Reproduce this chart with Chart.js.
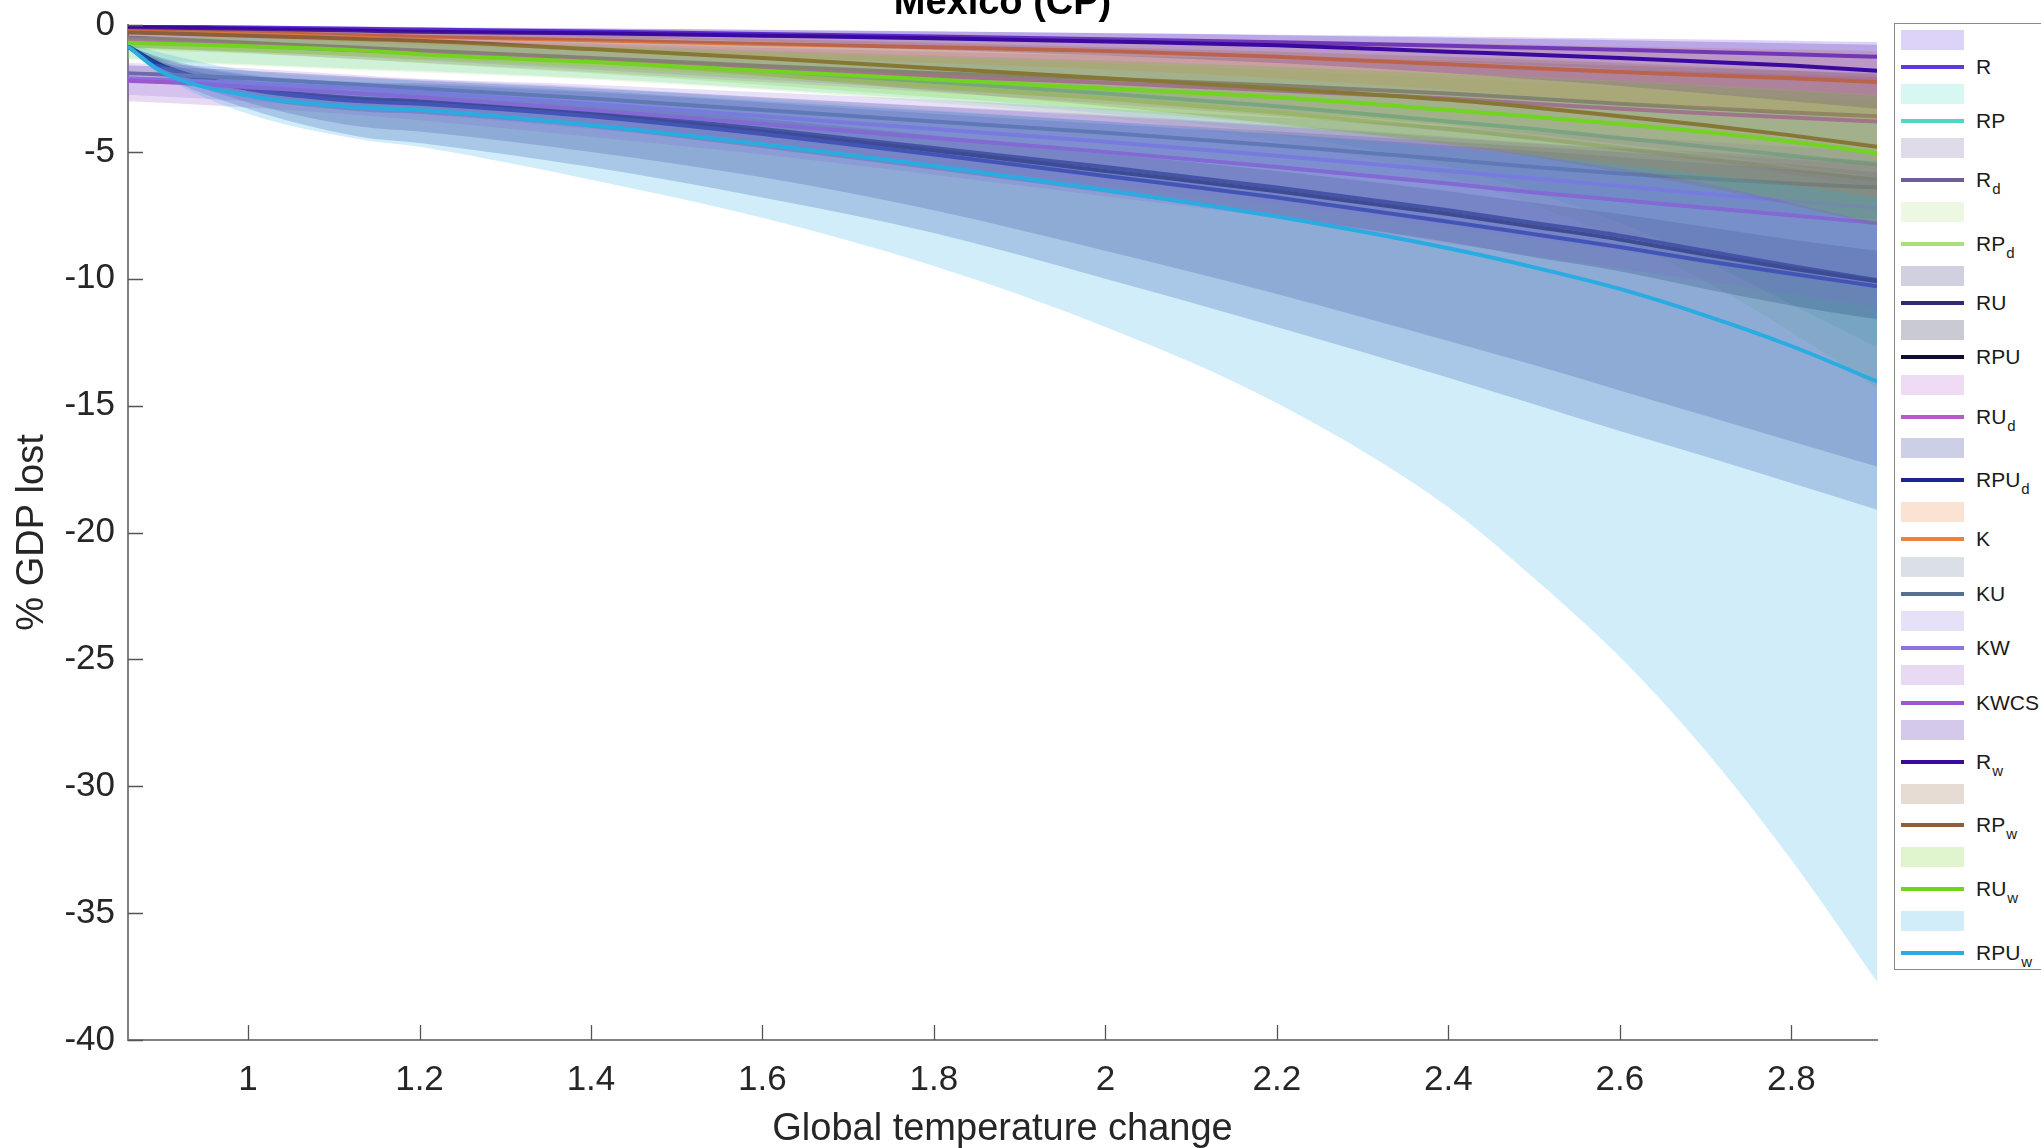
<!DOCTYPE html>
<html>
<head>
<meta charset="utf-8">
<script src="https://cdn.jsdelivr.net/npm/chart.js@4.4.0/dist/chart.umd.min.js"></script>
<style>
html,body{margin:0;padding:0;background:#fff;overflow:hidden;width:2041px;height:1148px}
#chart{position:absolute;left:0;top:0}
#legend{position:absolute;left:1894px;top:23px;width:230px;height:947px;border:1.5px solid #8a8a8a;background:#fff;box-sizing:border-box;padding-top:2px;font-family:"Liberation Sans",Arial,sans-serif;font-size:21px;color:#1a1a1a}
.row{position:relative;height:27.2px}
.row.sub{height:36.6px}
.patch{position:absolute;left:6px;top:50%;width:63px;height:20px;margin-top:-10px}
.ln{position:absolute;left:6px;top:50%;width:63px;height:4px;margin-top:-2px}
.lbl{position:absolute;left:81px;top:50%;margin-top:-12px;line-height:24px;white-space:nowrap}
.lbl sub{font-size:15px;position:relative;top:7px;vertical-align:baseline;margin-left:1px}
</style>
</head>
<body>
<canvas id="chart" width="2041" height="1148"></canvas>
<div id="legend"></div>
<script>
// ---------- data ----------
const xs = [0.86, 0.9, 1.0, 1.13, 1.2, 1.4, 1.6, 1.8, 2.0, 2.2, 2.4, 2.5, 2.6, 2.7, 2.8, 2.9];
const xTicks = [1, 1.2, 1.4, 1.6, 1.8, 2, 2.2, 2.4, 2.6, 2.8];
const xTickLabels = ['1','1.2','1.4','1.6','1.8','2','2.2','2.4','2.6','2.8'];
const yTicks = [0, -5, -10, -15, -20, -25, -30, -35, -40];
const yTickLabels = ['0','-5','-10','-15','-20','-25','-30','-35','-40'];

const seriesNames = ['R','RP','R_d','RP_d','RU','RPU','RU_d','RPU_d','K','KU','KW','KWCS','R_w','RP_w','RU_w','RPU_w'];
const lineColors = ['#6236e0','#4fd6c4','#6f5d99','#a8e07c','#2e2a78','#0d0d30','#b65ac8','#1c2590',
                    '#ef7f3d','#58708f','#8b74e0','#9c56cf','#3a0a9e','#8c5e3c','#72d321','#2aace2'];

const R_mean = [-0.05,-0.06,-0.1,-0.15,-0.18,-0.26,-0.35,-0.45,-0.56,-0.68,-0.82,-0.9,-0.98,-1.06,-1.15,-1.25];
const R_hi   = [0,-0.01,-0.03,-0.06,-0.08,-0.13,-0.19,-0.25,-0.32,-0.38,-0.45,-0.49,-0.53,-0.57,-0.62,-0.67];
const R_lo   = [-0.15,-0.17,-0.24,-0.32,-0.37,-0.5,-0.65,-0.82,-1.0,-1.2,-1.45,-1.6,-1.75,-1.92,-2.1,-2.3];

const RP_mean = [-0.75,-0.8,-0.92,-1.1,-1.2,-1.5,-1.85,-2.25,-2.7,-3.2,-3.8,-4.1,-4.45,-4.8,-5.15,-5.5];
const RP_hi   = [-0.4,-0.42,-0.48,-0.56,-0.62,-0.8,-1.0,-1.2,-1.4,-1.65,-1.95,-2.1,-2.25,-2.42,-2.6,-2.8];
const RP_lo   = [-1.3,-1.4,-1.55,-1.72,-1.8,-2.1,-2.5,-2.95,-3.5,-4.3,-5.6,-6.6,-7.8,-9.3,-11.0,-12.7];

const Rd_mean = [-0.5,-0.55,-0.7,-0.9,-1.0,-1.3,-1.62,-1.9,-2.12,-2.38,-2.7,-2.9,-3.1,-3.28,-3.45,-3.6];
const Rd_hi   = [-0.25,-0.28,-0.35,-0.45,-0.5,-0.65,-0.8,-0.95,-1.1,-1.25,-1.4,-1.5,-1.6,-1.7,-1.8,-1.9];
const Rd_lo   = [-0.8,-0.86,-1.0,-1.25,-1.38,-1.75,-2.15,-2.55,-2.95,-3.4,-3.95,-4.3,-4.7,-5.1,-5.55,-6.0];

const RPd_mean = [-0.8,-0.85,-0.98,-1.15,-1.25,-1.58,-1.95,-2.4,-2.9,-3.45,-4.1,-4.45,-4.85,-5.25,-5.7,-6.1];
const RPd_hi   = [-0.45,-0.47,-0.53,-0.62,-0.68,-0.87,-1.08,-1.3,-1.52,-1.8,-2.1,-2.27,-2.45,-2.65,-2.85,-3.05];
const RPd_lo   = [-1.35,-1.45,-1.6,-1.78,-1.86,-2.15,-2.55,-3.05,-3.65,-4.6,-6.0,-7.1,-8.4,-10.1,-12.1,-14.3];

const RU_mean = [-0.85,-1.6,-2.45,-2.9,-3.0,-3.45,-4.1,-4.85,-5.6,-6.4,-7.3,-7.8,-8.3,-8.9,-9.5,-10.05];
const RU_hi   = [-0.8,-1.3,-1.95,-2.25,-2.3,-2.6,-3.0,-3.4,-3.8,-4.2,-4.6,-4.8,-5.0,-5.25,-5.5,-5.8];
const RU_lo   = [-0.9,-1.8,-3.05,-4.0,-4.2,-5.0,-6.0,-7.3,-8.9,-10.6,-12.45,-13.4,-14.4,-15.4,-16.4,-17.4];

const RPU_mean = [-0.85,-1.62,-2.5,-2.95,-3.05,-3.52,-4.2,-4.95,-5.75,-6.55,-7.45,-7.95,-8.45,-9.05,-9.6,-10.1];
const RPU_hi   = [-0.82,-1.45,-2.2,-2.6,-2.68,-3.1,-3.7,-4.35,-5.05,-5.75,-6.55,-7.0,-7.45,-7.95,-8.45,-8.9];
const RPU_lo   = [-0.88,-1.8,-2.85,-3.4,-3.5,-4.05,-4.85,-5.7,-6.6,-7.55,-8.55,-9.15,-9.7,-10.4,-11.05,-11.6];

const RUd_mean = [-0.6,-0.65,-0.8,-1.0,-1.1,-1.42,-1.75,-2.02,-2.28,-2.58,-2.9,-3.1,-3.3,-3.48,-3.65,-3.8];
const RUd_hi   = [-0.3,-0.33,-0.4,-0.5,-0.56,-0.72,-0.9,-1.05,-1.2,-1.35,-1.55,-1.65,-1.75,-1.85,-1.95,-2.05];
const RUd_lo   = [-0.9,-0.95,-1.1,-1.35,-1.48,-1.85,-2.25,-2.65,-3.1,-3.6,-4.2,-4.55,-4.95,-5.4,-5.9,-6.4];

const RPUd_mean = [-0.85,-1.65,-2.52,-3.0,-3.1,-3.6,-4.3,-5.1,-5.95,-6.8,-7.75,-8.25,-8.75,-9.3,-9.8,-10.3];
const RPUd_hi   = [-0.8,-1.35,-2.0,-2.3,-2.35,-2.65,-3.05,-3.5,-3.9,-4.3,-4.75,-4.97,-5.2,-5.45,-5.7,-6.0];
const RPUd_lo   = [-0.92,-1.95,-3.3,-4.4,-4.65,-5.6,-6.8,-8.2,-10.0,-11.9,-13.9,-14.95,-16.0,-17.0,-18.05,-19.1];

const K_mean = [-0.2,-0.22,-0.3,-0.4,-0.46,-0.6,-0.75,-0.88,-1.02,-1.25,-1.55,-1.7,-1.85,-1.98,-2.1,-2.25];
const K_hi   = [-0.08,-0.09,-0.12,-0.17,-0.2,-0.27,-0.35,-0.42,-0.5,-0.6,-0.72,-0.78,-0.85,-0.91,-0.97,-1.03];
const K_lo   = [-0.35,-0.38,-0.5,-0.68,-0.78,-1.0,-1.25,-1.5,-1.75,-2.1,-2.55,-2.8,-3.05,-3.28,-3.5,-3.75];

const KU_mean = [-1.9,-1.95,-2.1,-2.35,-2.5,-2.9,-3.35,-3.8,-4.25,-4.75,-5.3,-5.6,-5.85,-6.05,-6.25,-6.4];
const KU_hi   = [-1.6,-1.65,-1.8,-2.05,-2.2,-2.5,-2.85,-3.2,-3.55,-3.95,-4.4,-4.65,-4.85,-5.0,-5.2,-5.35];
const KU_lo   = [-2.25,-2.3,-2.45,-2.7,-2.85,-3.35,-3.9,-4.45,-5.0,-5.6,-6.25,-6.6,-6.9,-7.2,-7.45,-7.65];

const KW_mean = [-2.1,-2.15,-2.3,-2.5,-2.65,-3.1,-3.6,-4.1,-4.6,-5.15,-5.75,-6.05,-6.35,-6.65,-6.95,-7.2];
const KW_hi   = [-1.5,-1.55,-1.7,-1.98,-2.12,-2.35,-2.65,-2.95,-3.3,-3.65,-4.0,-4.2,-4.4,-4.6,-4.8,-5.0];
const KW_lo   = [-2.75,-2.82,-3.0,-3.3,-3.5,-4.1,-4.75,-5.5,-6.3,-7.1,-8.0,-8.45,-8.9,-9.4,-9.9,-10.4];

const KWCS_mean = [-2.2,-2.25,-2.45,-2.7,-2.85,-3.35,-3.9,-4.45,-5.0,-5.6,-6.25,-6.6,-6.9,-7.2,-7.5,-7.8];
const KWCS_hi   = [-1.6,-1.65,-1.8,-2.05,-2.15,-2.45,-2.85,-3.22,-3.6,-4.0,-4.45,-4.68,-4.9,-5.1,-5.3,-5.5];
const KWCS_lo   = [-3.0,-3.06,-3.25,-3.55,-3.75,-4.4,-5.1,-5.9,-6.75,-7.6,-8.6,-9.1,-9.6,-10.1,-10.6,-11.1];

const Rw_mean = [-0.08,-0.1,-0.15,-0.22,-0.27,-0.33,-0.42,-0.52,-0.65,-0.8,-1.05,-1.17,-1.3,-1.45,-1.6,-1.8];
const Rw_hi   = [-0.02,-0.03,-0.06,-0.09,-0.11,-0.15,-0.2,-0.26,-0.33,-0.4,-0.5,-0.55,-0.6,-0.66,-0.72,-0.78];
const Rw_lo   = [-0.2,-0.23,-0.3,-0.42,-0.5,-0.62,-0.78,-0.98,-1.2,-1.5,-1.9,-2.15,-2.4,-2.7,-3.0,-3.3];

const RPw_mean = [-0.3,-0.33,-0.42,-0.55,-0.62,-0.95,-1.3,-1.7,-2.1,-2.5,-2.95,-3.25,-3.6,-3.95,-4.35,-4.8];
const RPw_hi   = [-0.12,-0.14,-0.18,-0.24,-0.28,-0.4,-0.55,-0.7,-0.88,-1.05,-1.25,-1.37,-1.5,-1.65,-1.8,-1.95];
const RPw_lo   = [-0.55,-0.6,-0.75,-0.98,-1.1,-1.5,-2.0,-2.6,-3.2,-3.9,-4.7,-5.2,-5.8,-6.4,-7.1,-7.9];

const RUw_mean = [-0.7,-0.74,-0.84,-1.0,-1.15,-1.45,-1.8,-2.15,-2.5,-2.85,-3.35,-3.62,-3.9,-4.22,-4.6,-5.05];
const RUw_hi   = [-0.45,-0.47,-0.52,-0.6,-0.68,-0.85,-1.05,-1.25,-1.45,-1.65,-1.9,-2.05,-2.2,-2.37,-2.55,-2.75];
const RUw_lo   = [-0.95,-1.0,-1.12,-1.35,-1.5,-1.9,-2.35,-2.85,-3.35,-3.95,-4.7,-5.15,-5.65,-6.25,-7.0,-7.8];

const RPUw_mean = [-0.85,-1.85,-2.78,-3.25,-3.35,-3.95,-4.7,-5.55,-6.5,-7.55,-8.8,-9.55,-10.4,-11.45,-12.65,-14.05];
const RPUw_hi   = [-0.75,-1.1,-1.8,-2.1,-2.2,-2.5,-2.9,-3.35,-3.8,-4.3,-4.85,-5.15,-5.5,-5.9,-6.3,-6.8];
const RPUw_lo   = [-0.95,-2.0,-3.5,-4.5,-4.8,-6.1,-7.6,-9.5,-11.9,-14.9,-19.0,-21.8,-24.9,-28.6,-32.9,-37.7];

const seriesMeans = [R_mean,RP_mean,Rd_mean,RPd_mean,RU_mean,RPU_mean,RUd_mean,RPUd_mean,K_mean,KU_mean,KW_mean,KWCS_mean,Rw_mean,RPw_mean,RUw_mean,RPUw_mean];
const seriesHi = [R_hi,RP_hi,Rd_hi,RPd_hi,RU_hi,RPU_hi,RUd_hi,RPUd_hi,K_hi,KU_hi,KW_hi,KWCS_hi,Rw_hi,RPw_hi,RUw_hi,RPUw_hi];
const seriesLo = [R_lo,RP_lo,Rd_lo,RPd_lo,RU_lo,RPU_lo,RUd_lo,RPUd_lo,K_lo,KU_lo,KW_lo,KWCS_lo,Rw_lo,RPw_lo,RUw_lo,RPUw_lo];

// ---------- build ----------
const FONT = '"Liberation Sans", Arial, Helvetica, sans-serif';
const BAND_ALPHA = 0.22;
function rgba(hex, a){
  const n = parseInt(hex.slice(1),16);
  return `rgba(${(n>>16)&255},${(n>>8)&255},${n&255},${a})`;
}
const pts = arr => xs.map((x,k)=>({x, y: arr[k]}));

const datasets = [];
seriesNames.forEach((nm, i) => {
  const c = lineColors[i];
  const lowIdx = datasets.length;
  datasets.push({label: nm+' lower', data: pts(seriesLo[i]), borderWidth:0, borderColor:'rgba(0,0,0,0)',
    pointRadius:0, fill:false, cubicInterpolationMode:'monotone', order: 1000 - 3*i});
  datasets.push({label: nm+' band', data: pts(seriesHi[i]), borderWidth:0, borderColor:'rgba(0,0,0,0)',
    backgroundColor: rgba(c, BAND_ALPHA), pointRadius:0, fill: lowIdx, cubicInterpolationMode:'monotone', order: 999 - 3*i});
  datasets.push({label: nm, data: pts(seriesMeans[i]), borderWidth:4, borderColor: c,
    pointRadius:0, fill:false, cubicInterpolationMode:'monotone', order: 998 - 3*i});
});

const decor = {
  id:'decor',
  afterDraw(chart){
    const {ctx, chartArea:a, scales:{x, y}} = chart;
    ctx.save();
    ctx.strokeStyle = '#555'; ctx.lineWidth = 1.3;
    ctx.beginPath();
    x.ticks.forEach(t => { const px = Math.round(x.getPixelForValue(t.value))+0.5; ctx.moveTo(px, a.bottom); ctx.lineTo(px, a.bottom-15); });
    y.ticks.forEach(t => { const py = Math.round(y.getPixelForValue(t.value))+0.5; ctx.moveTo(a.left, py); ctx.lineTo(a.left+15, py); });
    ctx.stroke();
    ctx.fillStyle = '#000';
    ctx.font = 'bold 38px ' + FONT;
    ctx.textAlign = 'center'; ctx.textBaseline = 'alphabetic';
    ctx.fillText('Mexico (CP)', (a.left+a.right)/2, 14);
    ctx.restore();
  }
};

Chart.defaults.font.family = FONT;
new Chart(document.getElementById('chart'), {
  type:'line',
  data:{datasets},
  options:{
    responsive:false, animation:false, devicePixelRatio:1,
    layout:{padding:{left:0, right:164, top:25, bottom:0}},
    plugins:{legend:{display:false}, tooltip:{enabled:false}},
    elements:{line:{tension:0}},
    scales:{
      x:{type:'linear', min:0.86, max:2.9,
        afterBuildTicks: s => { s.ticks = xTicks.map(v => ({value:v})); },
        afterFit: s => { s.height = 108; s.paddingLeft = 0; s.paddingRight = 0; },
        ticks:{font:{size:35}, color:'#262626', padding:19, maxRotation:0, autoSkip:false,
               callback:(v,i) => xTickLabels[i]},
        grid:{display:false, drawTicks:false},
        border:{display:true, color:'#808080', width:2},
        title:{display:true, text:'Global temperature change', font:{size:38, lineHeight:0.95}, color:'#262626', padding:{top:0,bottom:0}}
      },
      y:{type:'linear', min:-40, max:0,
        afterBuildTicks: s => { s.ticks = yTicks.map(v => ({value:v})); },
        afterFit: s => { s.width = 128; s.paddingTop = 0; s.paddingBottom = 0; },
        ticks:{font:{size:35}, color:'#262626', padding:13, autoSkip:false,
               callback:(v,i) => yTickLabels[i]},
        grid:{display:false, drawTicks:false},
        border:{display:true, color:'#808080', width:2},
        title:{display:true, text:'% GDP lost', font:{size:38}, color:'#262626', padding:{top:10,bottom:0}}
      }
    }
  },
  plugins:[decor]
});

// ---------- legend (HTML, built from the same arrays) ----------
const leg = document.getElementById('legend');
seriesNames.forEach((nm, i) => {
  const c = lineColors[i];
  const [base, sub] = nm.split('_');
  const pr = document.createElement('div'); pr.className = 'row';
  const p = document.createElement('div'); p.className = 'patch'; p.style.background = rgba(c, BAND_ALPHA);
  pr.appendChild(p); leg.appendChild(pr);
  const lr = document.createElement('div'); lr.className = 'row' + (sub ? ' sub' : '');
  const l = document.createElement('div'); l.className = 'ln'; l.style.background = c;
  const t = document.createElement('div'); t.className = 'lbl';
  t.appendChild(document.createTextNode(base));
  if (sub) { const s = document.createElement('sub'); s.textContent = sub; t.appendChild(s); }
  lr.appendChild(l); lr.appendChild(t); leg.appendChild(lr);
});
</script>
</body>
</html>
